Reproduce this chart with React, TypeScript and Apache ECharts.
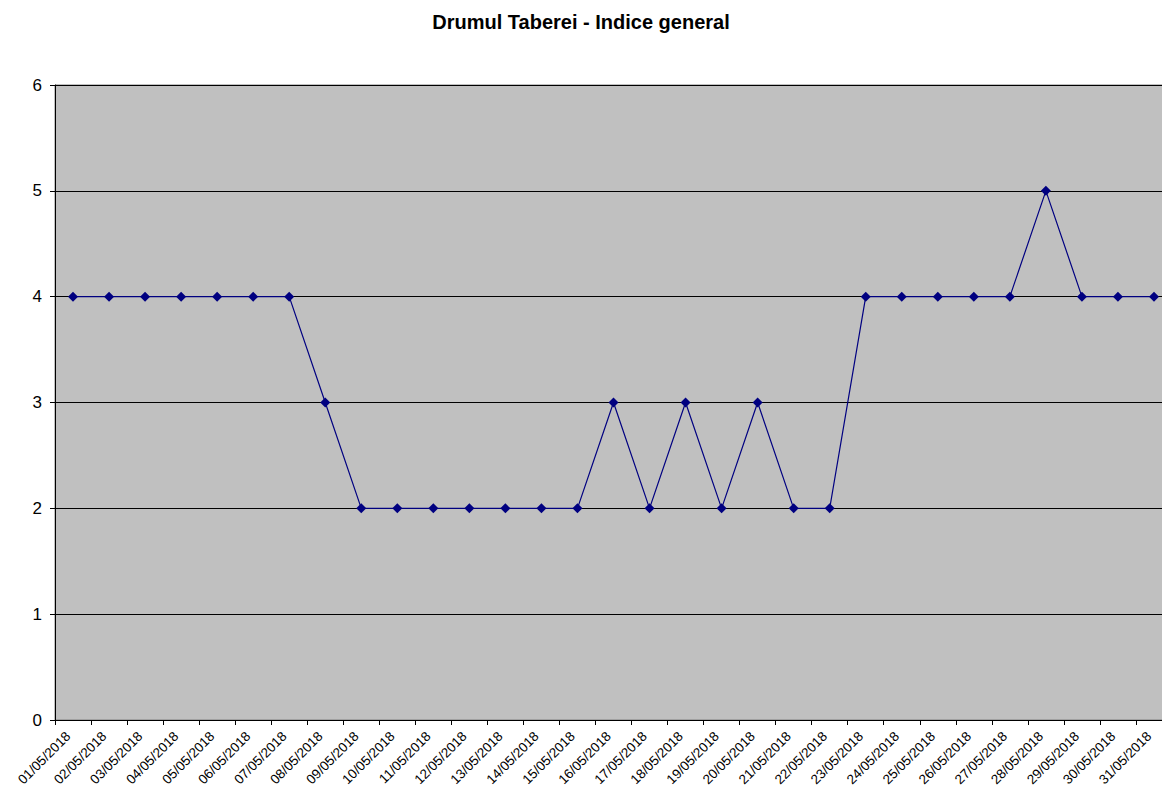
import React, { useEffect, useRef } from "react";
import * as echarts from "echarts";

const categories = [
  "01/05/2018", "02/05/2018", "03/05/2018", "04/05/2018", "05/05/2018", "06/05/2018", "07/05/2018",
  "08/05/2018", "09/05/2018", "10/05/2018", "11/05/2018", "12/05/2018", "13/05/2018", "14/05/2018",
  "15/05/2018", "16/05/2018", "17/05/2018", "18/05/2018", "19/05/2018", "20/05/2018", "21/05/2018",
  "22/05/2018", "23/05/2018", "24/05/2018", "25/05/2018", "26/05/2018", "27/05/2018", "28/05/2018",
  "29/05/2018", "30/05/2018", "31/05/2018",
];
const indiceGeneral = [
  4, 4, 4, 4, 4, 4, 4, 3, 2, 2, 2, 2, 2, 2, 2, 3, 2, 3, 2, 3, 2, 2, 4, 4, 4, 4, 4, 5, 4, 4, 4,
];
const titleText = "Drumul Taberei - Indice general";

export default function App() {
  const ref = useRef<HTMLDivElement>(null);
  useEffect(() => {
    document.body.style.margin = "0";
    document.body.style.overflow = "hidden";
    const chart = echarts.init(ref.current!, null, { renderer: "svg" });
    const font = "'Liberation Sans', Arial, sans-serif";
    chart.setOption({
      animation: false,
      backgroundColor: "#ffffff",
      graphic: [
        {
          type: "text",
          x: 581,
          y: 12,
          style: {
            text: titleText,
            align: "center",
            verticalAlign: "top",
            fontFamily: font,
            fontSize: 20,
            fontWeight: "bold",
            fill: "#000",
          },
          z: 10,
        },
      ],
      grid: { left: 55, right: 0, top: 85, bottom: 73, show: true, backgroundColor: "#c0c0c0", borderColor: "#808080", borderWidth: 1 },
      xAxis: {
        type: "category",
        data: categories,
        boundaryGap: true,
        axisLine: { lineStyle: { color: "#000", width: 1 } },
        axisTick: { show: true, alignWithLabel: false, length: 5, lineStyle: { color: "#000" } },
        axisLabel: { rotate: 45, fontFamily: font, fontSize: 13.5, color: "#000", interval: 0, margin: 19, verticalAlign: "bottom" },
      },
      yAxis: {
        type: "value",
        min: 0,
        max: 6,
        interval: 1,
        axisLine: { show: true, lineStyle: { color: "#000", width: 1 } },
        axisTick: { show: true, length: 5, lineStyle: { color: "#000" } },
        axisLabel: { fontFamily: font, fontSize: 17, color: "#000", margin: 13 },
        splitLine: { show: true, lineStyle: { color: "#000", width: 1 } },
      },
      series: [
        {
          type: "line",
          data: indiceGeneral,
          symbol: "diamond",
          symbolSize: 10,
          lineStyle: { color: "#000080", width: 1.2 },
          itemStyle: { color: "#000080" },
        },
      ],
    });
    return () => chart.dispose();
  }, []);
  return <div ref={ref} style={{ position: "fixed", left: 0, top: 0, width: 1172, height: 793 }} />;
}
